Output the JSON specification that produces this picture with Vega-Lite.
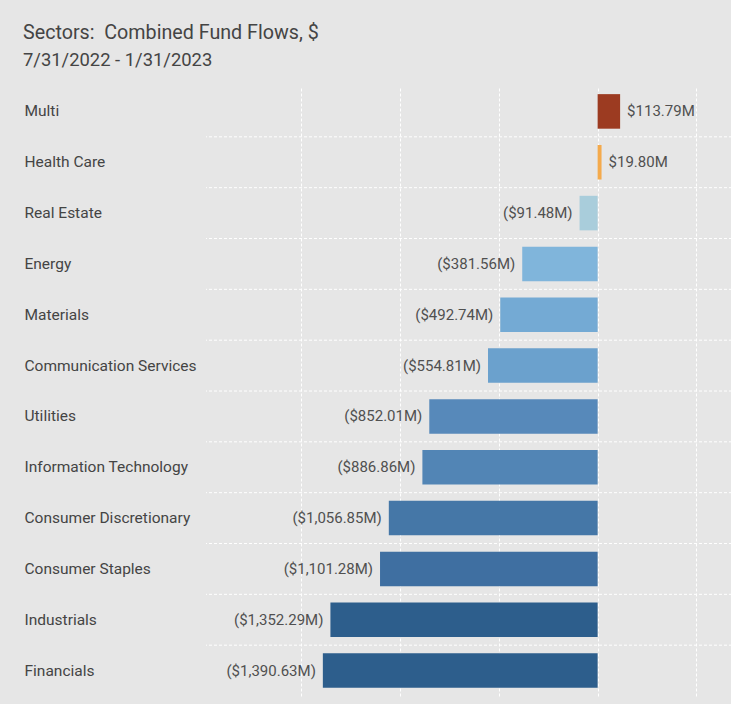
{
  "$schema": "https://vega.github.io/schema/vega-lite/v6.json",
  "width": 526,
  "height": 610,
  "padding": {"left": 23, "top": 22, "right": 0, "bottom": 8},
  "background": "#e6e6e6",
  "title": {
    "text": "Sectors:\u00a0 Combined Fund Flows, $",
    "subtitle": "7/31/2022 - 1/31/2023",
    "anchor": "start",
    "frame": "bounds",
    "dx": -1,
    "font": "Roboto",
    "fontSize": 19.7,
    "fontWeight": "normal",
    "color": "#444444",
    "subtitleFont": "Roboto",
    "subtitleFontSize": 18.4,
    "subtitleColor": "#444444",
    "subtitlePadding": 8,
    "offset": 17
  },
  "config": {"view": {"stroke": null}},
  "data": {
    "values": [
      {"sector": "Multi", "value": 113.79, "label": "$113.79M"},
      {"sector": "Health Care", "value": 19.80, "label": "$19.80M"},
      {"sector": "Real Estate", "value": -91.48, "label": "($91.48M)"},
      {"sector": "Energy", "value": -381.56, "label": "($381.56M)"},
      {"sector": "Materials", "value": -492.74, "label": "($492.74M)"},
      {"sector": "Communication Services", "value": -554.81, "label": "($554.81M)"},
      {"sector": "Utilities", "value": -852.01, "label": "($852.01M)"},
      {"sector": "Information Technology", "value": -886.86, "label": "($886.86M)"},
      {"sector": "Consumer Discretionary", "value": -1056.85, "label": "($1,056.85M)"},
      {"sector": "Consumer Staples", "value": -1101.28, "label": "($1,101.28M)"},
      {"sector": "Industrials", "value": -1352.29, "label": "($1,352.29M)"},
      {"sector": "Financials", "value": -1390.63, "label": "($1,390.63M)"}
    ]
  },
  "layer": [
    {
      "encoding": {
        "y": {
          "field": "sector", "type": "nominal",
          "scale": {"domain": ["Multi", "Health Care", "Real Estate", "Energy", "Materials", "Communication Services", "Utilities", "Information Technology", "Consumer Discretionary", "Consumer Staples", "Industrials", "Financials"], "paddingInner": 0, "paddingOuter": 0},
          "axis": {
            "title": null, "labelAlign": "left", "labelPadding": 182, "ticks": false, "domain": false, "grid": false,
            "labelFont": "Roboto", "labelFontSize": 15.5, "labelColor": "#444444", "labelLimit": 0
          }
        },
        "x": {
          "field": "value", "type": "quantitative",
          "scale": {"domain": [-1982, 680], "nice": false, "zero": false},
          "axis": {
            "title": null, "labels": false, "ticks": false, "domain": false, "grid": true,
            "gridColor": "white", "gridDash": [3, 2], "gridWidth": 1, "gridOpacity": 1,
            "values": [-1500, -1000, -500, 0, 500], "minExtent": 0, "maxExtent": 0
          }
        }
      },
      "layer": [
        {
          "mark": {"type": "bar", "height": {"band": 0.68}},
          "encoding": {
            "color": {
              "field": "sector", "type": "nominal", "legend": null,
              "scale": {
                "domain": ["Multi", "Health Care", "Real Estate", "Energy", "Materials", "Communication Services", "Utilities", "Information Technology", "Consumer Discretionary", "Consumer Staples", "Industrials", "Financials"],
                "range": ["#9c3b21", "#f4aa4c", "#a9cddb", "#80b5db", "#74aad4", "#6ba1cd", "#5789ba", "#5285b5", "#4577a7", "#3f6fa1", "#2d5e8c", "#2d5e8c"]
              }
            }
          }
        },
        {
          "transform": [{"filter": "datum.value > 0"}],
          "mark": {"type": "text", "align": "left", "dx": 7, "font": "Roboto", "fontSize": 15, "color": "#505050"},
          "encoding": {"text": {"field": "label"}}
        },
        {
          "transform": [{"filter": "datum.value < 0"}],
          "mark": {"type": "text", "align": "right", "dx": -7, "font": "Roboto", "fontSize": 15, "color": "#505050"},
          "encoding": {"text": {"field": "label"}}
        }
      ]
    },
    {
      "mark": {"type": "rule", "color": "white", "strokeDash": [3, 2], "strokeWidth": 1},
      "transform": [{"filter": "datum.sector !== 'Multi'"}],
      "encoding": {
        "y": {
          "field": "sector", "type": "nominal", "bandPosition": 0,
          "scale": {"domain": ["Multi", "Health Care", "Real Estate", "Energy", "Materials", "Communication Services", "Utilities", "Information Technology", "Consumer Discretionary", "Consumer Staples", "Industrials", "Financials"], "paddingInner": 0, "paddingOuter": 0},
          "axis": {
            "title": null, "labelAlign": "left", "labelPadding": 182, "ticks": false, "domain": false, "grid": false,
            "labelFont": "Roboto", "labelFontSize": 15.5, "labelColor": "#444444", "labelLimit": 0
          }
        }
      }
    }
  ]
}
